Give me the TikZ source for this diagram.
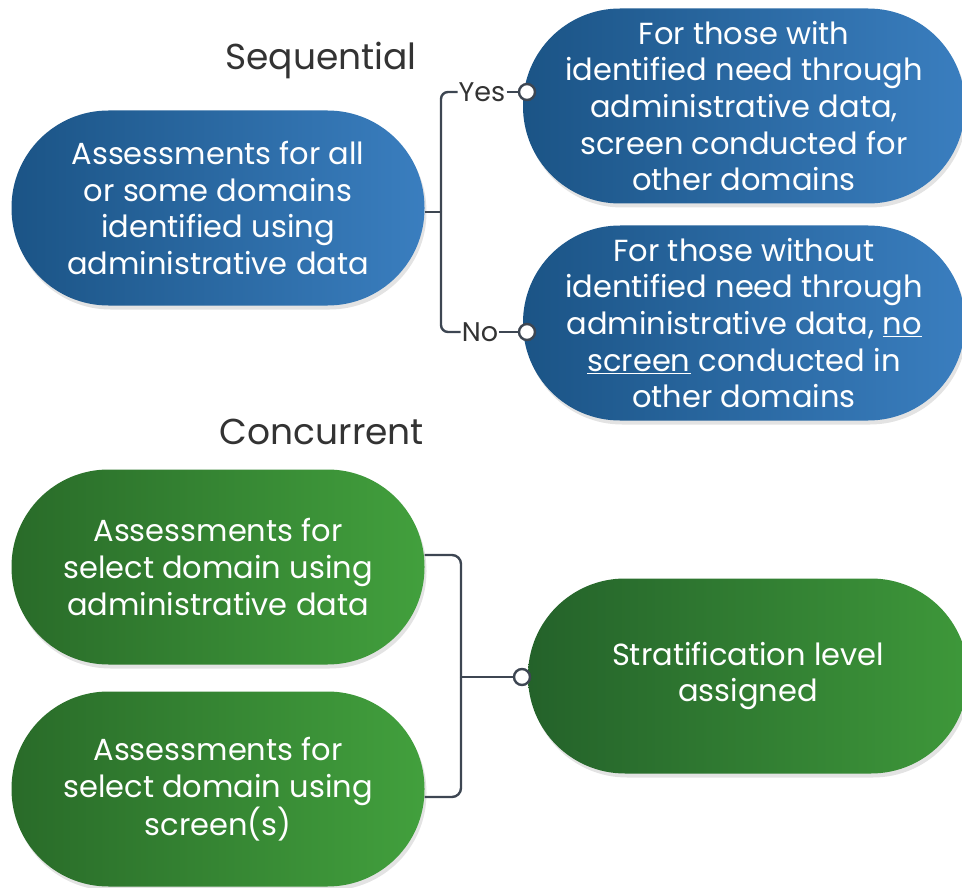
\documentclass[tikz,border=0pt]{standalone}
\usepackage{fontspec}
\setmainfont{Poppins}
\usetikzlibrary{shadows}
\definecolor{blueL}{HTML}{1B5486}
\definecolor{blueR}{HTML}{3A7EBF}
\definecolor{greenL}{HTML}{296B29}
\definecolor{greenR}{HTML}{42A03D}
\definecolor{greenDL}{HTML}{24622A}
\definecolor{greenDR}{HTML}{3E983A}
\definecolor{linec}{HTML}{3D4652}
\definecolor{titlec}{HTML}{333333}
\begin{document}
\begin{tikzpicture}[x=1pt,y=-1pt,
  pill/.style={rectangle, rounded corners=97pt, minimum height=195pt, inner sep=0pt, align=center,
    text=white, font=\fontsize{30.5}{36.7}\selectfont,
    drop shadow={opacity=0.22, shadow xshift=2pt, shadow yshift=-4pt}},
  bluepill/.style={pill, left color=blueL, right color=blueR},
  greenpill/.style={pill, left color=greenL, right color=greenR},
  darkpill/.style={pill, left color=greenDL, right color=greenDR},
  conn/.style={draw=linec, line width=2.4pt},
  knob/.style={circle, draw=linec, fill=white, line width=2.4pt, minimum size=16pt, inner sep=0pt},
  ttl/.style={text=titlec, font=\fontsize{36}{40}\selectfont},
  lbl/.style={text=titlec, font=\fontsize{27}{30}\selectfont, inner sep=1pt}]
\useasboundingbox (0,0) rectangle (962,888);

% titles
\node[ttl] (tseq) at (321,60) {Sequential};
\node[ttl] (tcon) at (322,432) {Concurrent};

% sequential pills
\node[bluepill, minimum width=413pt] (seqA) at (218,208)
  {Assessments for all\\or some domains\\identified using\\administrative data};
\node[bluepill, minimum width=442pt] (yesP) at (744,106)
  {For those with\\identified need through\\administrative data,\\screen conducted for\\other domains};
\node[bluepill, minimum width=442pt] (noP) at (744,323)
  {For those without\\identified need through\\administrative data, \underline{no}\\\underline{screen} conducted in\\other domains};

% concurrent pills
\node[greenpill, minimum width=413pt] (conA) at (218,567)
  {Assessments for\\select domain using\\administrative data};
\node[greenpill, minimum width=413pt] (conB) at (218,789)
  {Assessments for\\select domain using\\screen(s)};
\node[darkpill, minimum width=440pt] (strat) at (748,676)
  {Stratification level\\assigned};

% sequential connectors
\node[lbl] (yes) at (482,92) {Yes};
\node[lbl] (no) at (480,332) {No};
\coordinate (j1) at (441,212);
\node[knob] (k1) at (527,92) {};
\node[knob] (k2) at (527,332) {};
\draw[conn] (seqA.east |- j1) -- (j1);
\draw[conn, rounded corners=7pt] (yes.west) -| (j1);
\draw[conn, rounded corners=7pt] (no.west) -| (j1);
\draw[conn] (yes.east) -- (k1);
\draw[conn] (no.east) -- (k2);

% concurrent connectors
\coordinate (j2) at (461,677);
\node[knob] (k3) at (522,677) {};
\draw[conn, rounded corners=9pt] ([yshift=12pt]conA.east) -| (j2);
\draw[conn, rounded corners=9pt] ([yshift=-8pt]conB.east) -| (j2);
\draw[conn] (j2) -- (k3);
\end{tikzpicture}
\end{document}
